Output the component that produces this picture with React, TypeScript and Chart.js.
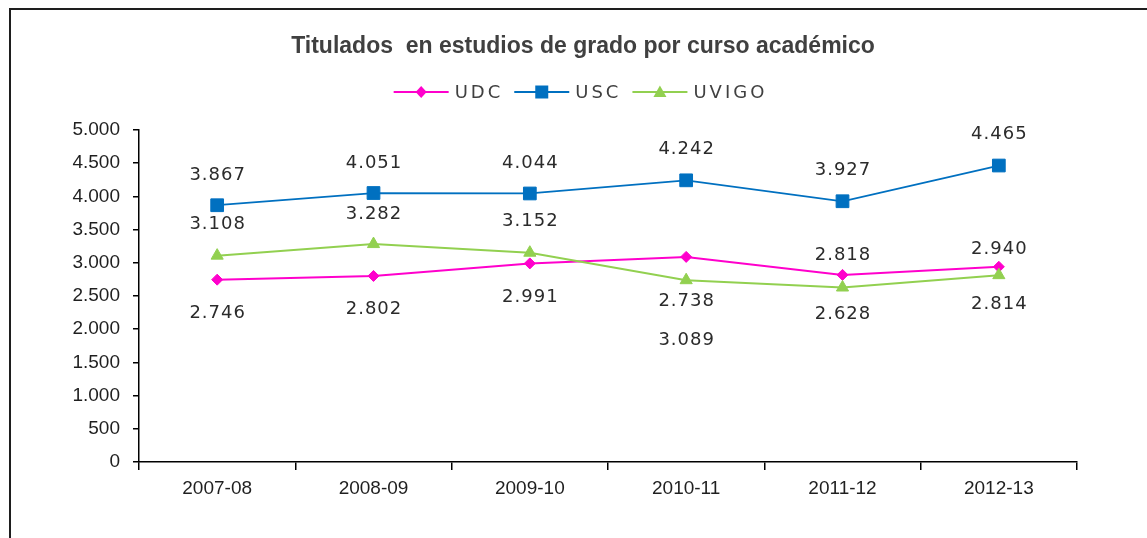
import React, { useEffect, useRef } from "react";
import { Chart, registerables } from "chart.js";

Chart.register(...registerables);

// ---- data ----
const categories = ["2007-08", "2008-09", "2009-10", "2010-11", "2011-12", "2012-13"];
const udc = [2746, 2802, 2991, 3089, 2818, 2940];
const usc = [3867, 4051, 4044, 4242, 3927, 4465];
const uvigo = [3108, 3282, 3152, 2738, 2628, 2814];
const seriesNames = ["UDC", "USC", "UVIGO"];
const titleText = "Titulados  en estudios de grado por curso académico";
const yMin = 0;
const yMax = 5000;
const yStep = 500;

// ---- label placement (vertical offset of each data label from its point, px) ----
const udcLabelOffset = [33, 32, 33, 82, -21, -18];
const uscLabelOffset = [-31, -31, -31, -32, -32, -32];
const uvigoLabelOffset = [-32, -31, -32, 20, 26, 28];

const PINK = "#FF00CC";
const BLUE = "#0070C0";
const GREEN = "#92D050";

const fmt = (v: number) => String(Math.round(v)).replace(/\B(?=(\d{3})+(?!\d))/g, ".");

function drawMarker(ctx: CanvasRenderingContext2D, style: string, x: number, y: number, color: string) {
  ctx.save();
  ctx.fillStyle = color;
  ctx.beginPath();
  if (style === "rectRot") {
    ctx.moveTo(x - 5.5, y);
    ctx.lineTo(x, y - 6);
    ctx.lineTo(x + 5.5, y);
    ctx.lineTo(x, y + 6);
    ctx.closePath();
  } else if (style === "rect") {
    ctx.rect(x - 6.5, y - 6.5, 13, 13);
  } else {
    ctx.moveTo(x, y - 6.5);
    ctx.lineTo(x + 6.5, y + 5);
    ctx.lineTo(x - 6.5, y + 5);
    ctx.closePath();
  }
  ctx.fill();
  ctx.restore();
}

const decorPlugin = {
  id: "decor",
  beforeDraw(chart: any) {
    const ctx = chart.ctx as CanvasRenderingContext2D;
    ctx.save();
    ctx.fillStyle = "#ffffff";
    ctx.fillRect(0, 0, chart.width, chart.height);
    ctx.fillStyle = "#1e1e1e";
    ctx.fillRect(9, 8, 2, chart.height);
    ctx.fillRect(9, 8, chart.width, 2);
    ctx.restore();
  },
  afterDatasetsDraw(chart: any) {
    const ctx = chart.ctx as CanvasRenderingContext2D;
    const offsets = [udcLabelOffset, uscLabelOffset, uvigoLabelOffset];
    ctx.save();
    ctx.font = '18px "DejaVu Sans", Verdana, sans-serif';
    (ctx as any).letterSpacing = "1px";
    ctx.fillStyle = "#2b2b2b";
    ctx.textAlign = "center";
    ctx.textBaseline = "middle";
    chart.data.datasets.forEach((ds: any, i: number) => {
      const meta = chart.getDatasetMeta(i);
      meta.data.forEach((pt: any, j: number) => {
        ctx.fillText(fmt(ds.data[j]), pt.x + 0.5, pt.y + offsets[i][j] + 1);
      });
    });
    ctx.restore();
  },
  afterDraw(chart: any) {
    const ctx = chart.ctx as CanvasRenderingContext2D;
    ctx.save();
    // title
    ctx.font = 'bold 23px "Liberation Sans", Arial, sans-serif';
    ctx.fillStyle = "#404040";
    ctx.textAlign = "center";
    ctx.textBaseline = "alphabetic";
    ctx.fillText(titleText, 583, 53);
    // legend
    ctx.font = '18px "DejaVu Sans", Verdana, sans-serif';
    (ctx as any).letterSpacing = "3px";
    ctx.textAlign = "left";
    ctx.textBaseline = "middle";
    const lineLen = 55;
    const gapText = 6;
    const gapItem = 11;
    const items = chart.data.datasets.map((ds: any) => ({
      label: ds.label,
      color: ds.borderColor,
      style: ds.pointStyle,
      w: ctx.measureText(ds.label).width,
    }));
    const total =
      items.reduce((s: number, it: any) => s + lineLen + gapText + it.w, 0) + gapItem * (items.length - 1);
    let x = 580.5 - total / 2;
    const y = 92;
    items.forEach((it: any) => {
      ctx.strokeStyle = it.color;
      ctx.lineWidth = 2;
      ctx.beginPath();
      ctx.moveTo(x, y);
      ctx.lineTo(x + lineLen, y);
      ctx.stroke();
      drawMarker(ctx, it.style, x + lineLen / 2, y, it.color);
      ctx.fillStyle = "#404040";
      ctx.fillText(it.label, x + lineLen + gapText, y + 1);
      x += lineLen + gapText + it.w + gapItem;
    });
    ctx.restore();
  },
};

export default function App() {
  const ref = useRef<HTMLCanvasElement | null>(null);

  useEffect(() => {
    if (!ref.current) return;
    const tickFont = { family: '"Liberation Sans", Arial, sans-serif', size: 19 };
    const chart = new Chart(ref.current, {
      type: "line",
      data: {
        labels: categories,
        datasets: [
          {
            label: seriesNames[0],
            data: udc,
            borderColor: PINK,
            backgroundColor: PINK,
            pointBackgroundColor: PINK,
            pointBorderColor: PINK,
            pointStyle: "rectRot",
            pointRadius: 5.5,
            pointBorderWidth: 1,
            borderWidth: 2,
            order: 3,
          },
          {
            label: seriesNames[1],
            data: usc,
            borderColor: BLUE,
            backgroundColor: BLUE,
            pointBackgroundColor: BLUE,
            pointBorderColor: BLUE,
            pointStyle: "rect",
            pointRadius: 9,
            pointBorderWidth: 1,
            borderWidth: 1.75,
            order: 2,
          },
          {
            label: seriesNames[2],
            data: uvigo,
            borderColor: GREEN,
            backgroundColor: GREEN,
            pointBackgroundColor: GREEN,
            pointBorderColor: GREEN,
            pointStyle: "triangle",
            pointRadius: 7,
            pointBorderWidth: 1,
            borderWidth: 2,
            order: 1,
          },
        ],
      },
      options: {
        responsive: false,
        animation: false,
        events: [],
        layout: { padding: { top: 130, right: 70, left: 0, bottom: 0 } },
        plugins: {
          legend: { display: false },
          title: { display: false },
          tooltip: { enabled: false },
        },
        scales: {
          x: {
            offset: true,
            grid: {
              offset: true,
              drawOnChartArea: false,
              drawTicks: true,
              tickLength: 8,
              color: "#000",
              lineWidth: 1.5,
            },
            border: { color: "#000", width: 1.5 },
            ticks: { font: tickFont, color: "#1f1f1f", padding: 7, maxRotation: 0, autoSkip: false },
            afterFit: (s: any) => {
              s.height = 76;
            },
          },
          y: {
            min: yMin,
            max: yMax,
            grid: {
              drawOnChartArea: false,
              drawTicks: true,
              tickLength: 6,
              color: "#000",
              lineWidth: 1.5,
            },
            border: { color: "#000", width: 1.5 },
            ticks: {
              stepSize: yStep,
              font: tickFont,
              color: "#1f1f1f",
              padding: 13,
              callback: (v: any) => fmt(Number(v)),
            },
            afterFit: (s: any) => {
              s.width = 139;
            },
          },
        },
      },
      plugins: [decorPlugin],
    });
    return () => chart.destroy();
  }, []);

  return (
    <div
      style={{
        position: "fixed",
        left: 0,
        top: 0,
        width: 1147,
        height: 538,
        overflow: "hidden",
        background: "#fff",
      }}
    >
      <canvas ref={ref} width={1147} height={538} style={{ display: "block", width: 1147, height: 538 }} />
    </div>
  );
}
